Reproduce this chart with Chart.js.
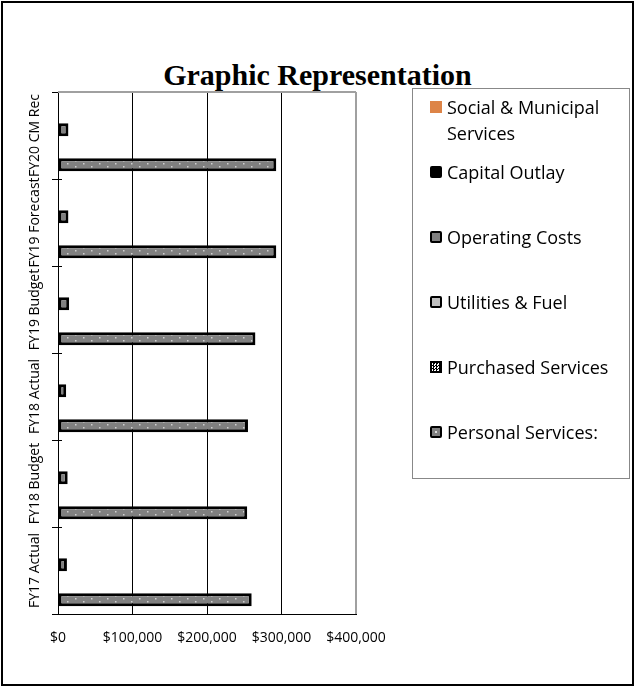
<!DOCTYPE html>
<html>
<head>
<meta charset="utf-8">
<script src="https://cdn.jsdelivr.net/npm/chart.js@4.4.0/dist/chart.umd.min.js"></script>
<style>
  body { margin: 0; background: #fff; }
  #wrap { position: relative; width: 635px; height: 686px; }
  #frame { position: absolute; left: 1px; top: 1px; width: 629px; height: 681px; border: 2px solid #000; }
  #title { position: absolute; left: 0; top: 58px; width: 635px; text-align: center;
           font: bold 30px "Liberation Serif"; line-height: 34px; color: #000; }
  #chart { position: absolute; left: 0; top: 0; }
  #legend { position: absolute; left: 412px; top: 88px; width: 216px; height: 389px; border: 1px solid #888; }
  .item { position: absolute; left: 17px; width: 192px; display: flex; align-items: flex-start;
          font: 18px "Open Sans"; line-height: 26px; color: #000; }
  .sw { flex: none; width: 12px; height: 12px; margin-top: 7px; margin-right: 5px; box-sizing: border-box; }
</style>
</head>
<body>
<div id="wrap">
  <div id="frame"></div>
  <div id="title">Graphic Representation</div>
  <canvas id="chart" width="635" height="686"></canvas>
  <div id="legend"></div>
</div>
<script>
// categories, bottom to top on the chart
const categories = ['FY17 Actual', 'FY18 Budget', 'FY18 Actual', 'FY19 Budget', 'FY19 Forecast', 'FY20 CM Rec'];

// series values ($)
const socialMunicipal   = [0, 0, 0, 0, 0, 0];
const capitalOutlay     = [0, 0, 0, 0, 0, 0];
const operatingCosts    = [12000, 13000, 11000, 15000, 14000, 14000];
const utilitiesFuel     = [0, 0, 0, 0, 0, 0];
const purchasedServices = [0, 0, 0, 0, 0, 0];
const personalServices  = [260000, 254000, 255000, 265000, 293000, 293000];

const seriesNames = ['Social & Municipal Services', 'Capital Outlay', 'Operating Costs',
                     'Utilities & Fuel', 'Purchased Services', 'Personal Services:'];
const xTicks = [0, 100000, 200000, 300000, 400000];

// fills
function dotPattern() {
  const c = document.createElement('canvas');
  c.width = 16; c.height = 6;
  const g = c.getContext('2d');
  g.fillStyle = '#808080'; g.fillRect(0, 0, 16, 6);
  g.fillStyle = '#cfcfcf';
  g.fillRect(3, 1, 1.5, 1.5);
  g.fillRect(11, 4, 1.5, 1.5);
  return g.createPattern(c, 'repeat');
}
function checkPattern() {
  const c = document.createElement('canvas');
  c.width = 2; c.height = 2;
  const g = c.getContext('2d');
  g.fillStyle = '#000'; g.fillRect(0, 0, 2, 2);
  g.fillStyle = '#fff'; g.fillRect(0, 0, 1, 1); g.fillRect(1, 1, 1, 1);
  return g.createPattern(c, 'repeat');
}

const fills = ['#dd8447', '#000000', '#808080', '#c0c0c0', checkPattern(), dotPattern()];
const values = [socialMunicipal, capitalOutlay, operatingCosts, utilitiesFuel, purchasedServices, personalServices];

const datasets = seriesNames.map((name, i) => ({
  label: name,
  data: values[i],
  backgroundColor: fills[i],
  borderColor: '#000',
  borderWidth: i === 0 ? 0 : 3,
  borderSkipped: false,
  categoryPercentage: 0.805,
  barPercentage: 1.12
}));

// plot area frame (top in grey) + little ticks crossing the value axis
const frameLine = {
  id: 'frameLine',
  beforeDatasetsDraw(chart) {
    const { ctx, chartArea: a } = chart;
    const y = chart.scales.y;
    ctx.save();
    ctx.strokeStyle = '#a0a0a0';
    ctx.lineWidth = 2;
    ctx.beginPath();
    ctx.moveTo(a.left, a.top);
    ctx.lineTo(a.right, a.top);
    ctx.stroke();
    ctx.strokeStyle = '#000';
    ctx.lineWidth = 1;
    ctx.beginPath();
    y.ticks.forEach((t, i) => {
      const py = Math.round(y.getPixelForTick(i) - (y.getPixelForTick(1) - y.getPixelForTick(0)) / 2) + 0.5;
      ctx.moveTo(a.left, py);
      ctx.lineTo(a.left + 4, py);
    });
    ctx.stroke();
    ctx.restore();
  }
};

new Chart(document.getElementById('chart'), {
  type: 'bar',
  data: { labels: categories, datasets: datasets },
  plugins: [frameLine],
  options: {
    responsive: false,
    animation: false,
    indexAxis: 'y',
    layout: { padding: { left: 4, right: 279, top: 92, bottom: 32 } },
    plugins: { legend: { display: false }, tooltip: { enabled: false } },
    scales: {
      x: {
        min: 0, max: 400000,
        afterBuildTicks(s) { s.ticks = xTicks.map(v => ({ value: v })); },
        afterFit(s) { s.height = 40; },
        grid: {
          drawTicks: false,
          color: c => c.tick && c.tick.value === 400000 ? '#a0a0a0' : '#000',
          lineWidth: c => c.tick && c.tick.value === 400000 ? 2 : 1
        },
        border: { color: '#000', width: 1 },
        ticks: {
          padding: 16,
          color: '#000',
          font: { family: 'Open Sans', size: 14 },
          callback: v => '$' + Number(v).toLocaleString('en-US')
        }
      },
      y: {
        reverse: true,
        afterFit(s) { s.width = 54; },
        grid: { drawOnChartArea: false, drawTicks: true, tickLength: 6, color: '#000' },
        border: { color: '#000', width: 1 },
        ticks: {
          autoSkip: false,
          minRotation: 90,
          maxRotation: 90,
          crossAlign: 'center',
          padding: -28,
          color: '#000',
          font: { family: 'Open Sans', size: 14 }
        }
      }
    }
  }
});

// legend box, same order as the bars in each group (top to bottom)
const legendSwatch = [
  'background:#dd8447',
  'background:#000;border-radius:2px',
  'background:#808080;border:2px solid #000;border-radius:2px',
  'background:#c0c0c0;border:2px solid #000;border-radius:2px',
  'background:repeating-conic-gradient(#000 0 25%, #fff 0 50%) 0 0/3px 3px;border:2px solid #000',
  'background:radial-gradient(circle, #ddd 0 1px, #808080 1.5px);border:2px solid #000;border-radius:2px'
];
const legend = document.getElementById('legend');
seriesNames.forEach((name, i) => {
  const it = document.createElement('div');
  it.className = 'item';
  it.style.top = (5 + 65 * i) + 'px';
  it.innerHTML = '<span class="sw" style="' + legendSwatch[i] + '"></span><span></span>';
  it.lastChild.textContent = name;
  legend.appendChild(it);
});
</script>
</body>
</html>
